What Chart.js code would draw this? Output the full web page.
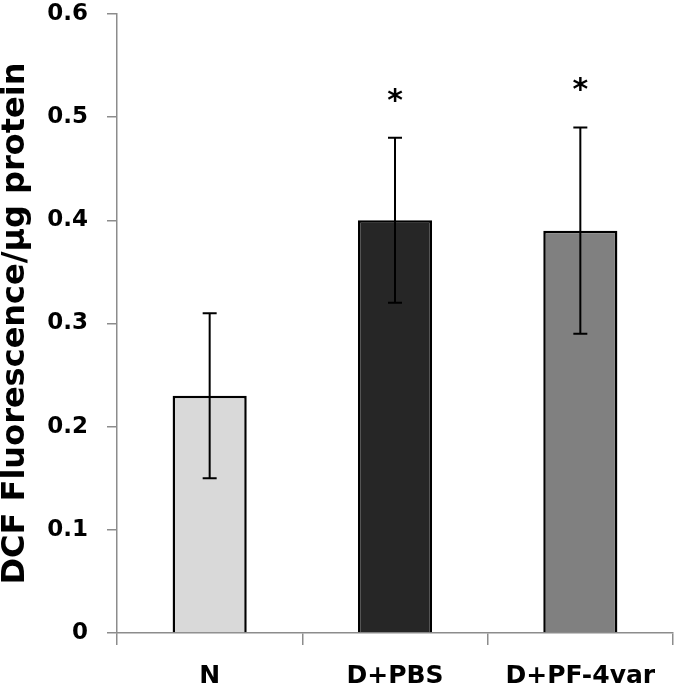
<!DOCTYPE html>
<html>
<head>
<meta charset="utf-8">
<script src="https://cdn.jsdelivr.net/npm/chart.js@4"></script>
<style>
  html, body { margin: 0; padding: 0; background: #fff; }
  #wrap { width: 674px; height: 687px; }
</style>
</head>
<body>
<div id="wrap"><canvas id="chart" width="674" height="687"></canvas></div>
<script>
// dados do gráfico
const groups = ['N', 'D+PBS', 'D+PF-4var'];
const means = [0.23, 0.40, 0.39];
const errors = [0.08, 0.08, 0.10];
const marks = ['', '*', '*'];
const barColors = ['#d9d9d9', '#262626', '#808080'];
const yTitle = 'DCF Fluorescence/\u00b5g protein';

const fontFam = '"DejaVu Sans", Arial, sans-serif';

// barras de erro + asteriscos
const errorBars = {
  id: 'errorBars',
  afterDatasetsDraw(chart) {
    const { ctx, scales: { x, y } } = chart;
    ctx.save();
    ctx.strokeStyle = '#000';
    ctx.lineWidth = 2;
    means.forEach((m, i) => {
      const cx = x.getPixelForValue(i);
      const top = y.getPixelForValue(m + errors[i]);
      const bot = y.getPixelForValue(m - errors[i]);
      ctx.beginPath();
      ctx.moveTo(cx, top); ctx.lineTo(cx, bot);
      ctx.moveTo(cx - 7, top); ctx.lineTo(cx + 7, top);
      ctx.moveTo(cx - 7, bot); ctx.lineTo(cx + 7, bot);
      ctx.stroke();
      if (marks[i]) {
        ctx.fillStyle = '#000';
        ctx.font = 'bold 30px ' + fontFam;
        ctx.textAlign = 'center';
        ctx.textBaseline = 'middle';
        ctx.fillText(marks[i], cx, top - 36);
      }
    });
    ctx.restore();
  }
};

new Chart(document.getElementById('chart'), {
  type: 'bar',
  data: {
    labels: groups,
    datasets: [{
      data: means,
      backgroundColor: barColors,
      borderColor: '#000',
      borderWidth: { top: 2.5, left: 2.5, right: 2.5, bottom: 0 },
      borderSkipped: 'bottom',
      categoryPercentage: 1,
      barPercentage: 0.4
    }]
  },
  options: {
    responsive: false,
    animation: false,
    layout: { padding: { top: 14, right: 1, left: 0, bottom: 0 } },
    plugins: {
      legend: { display: false },
      tooltip: { enabled: false }
    },
    scales: {
      x: {
        offset: true,
        grid: { offset: true, drawOnChartArea: false, tickLength: 12, color: '#8c8c8c', lineWidth: 1.5 },
        border: { color: '#8c8c8c', width: 1.5 },
        ticks: { color: '#000', padding: 16, font: { family: fontFam, size: 25, weight: 'bold' } },
        afterFit(s) { s.height = 54; s.paddingRight = 0; s.paddingLeft = 0; }
      },
      y: {
        min: 0,
        max: 0.6,
        ticks: { stepSize: 0.1, color: '#000', padding: 19, font: { family: fontFam, size: 23, weight: 'bold' } },
        grid: { drawOnChartArea: false, tickLength: 10, color: '#8c8c8c', lineWidth: 1.5 },
        border: { color: '#8c8c8c', width: 1.5 },
        title: {
          display: true,
          text: yTitle,
          color: '#000',
          padding: 0,
          font: { family: fontFam, size: 32, weight: 'bold', lineHeight: 1 }
        },
        afterFit(s) { s.width = 117; s.paddingTop = 0; s.paddingBottom = 0; }
      }
    }
  },
  plugins: [errorBars]
});
</script>
</body>
</html>
